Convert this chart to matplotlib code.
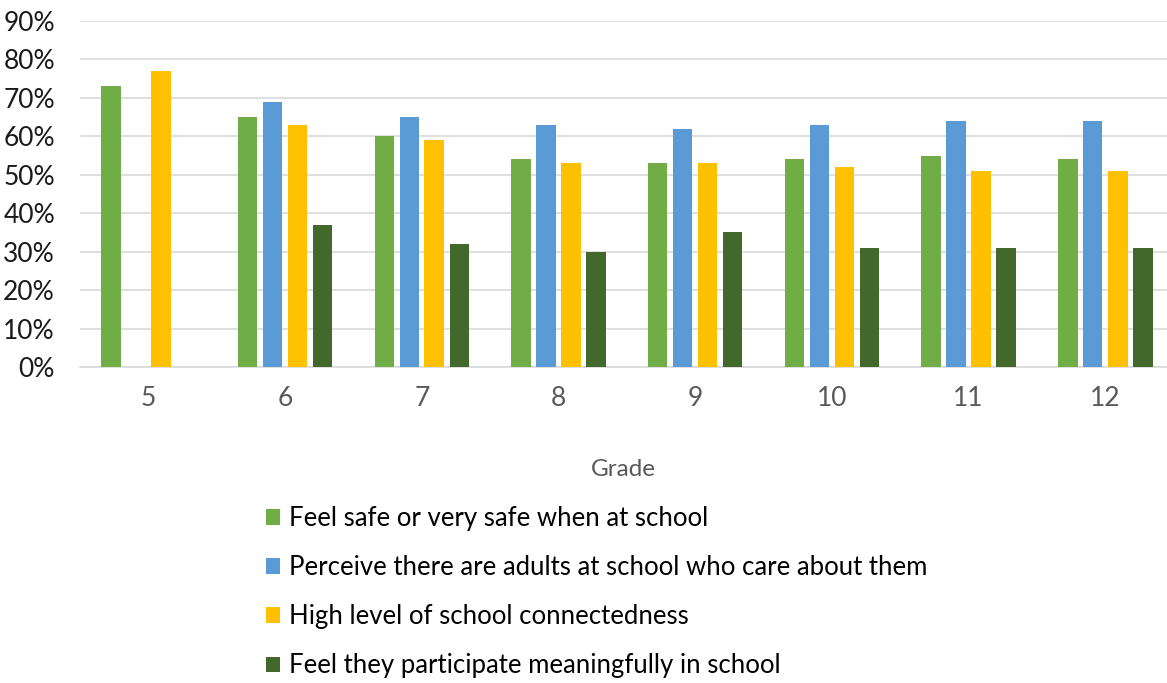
import matplotlib.pyplot as plt
import numpy as np

plt.rcParams['font.family'] = ['Lato', 'DejaVu Sans']

grades = ['5', '6', '7', '8', '9', '10', '11', '12']
safe = [73, 65, 60, 54, 53, 54, 55, 54]
adults = [np.nan, 69, 65, 63, 62, 63, 64, 64]
connected = [77, 63, 59, 53, 53, 52, 51, 51]
participate = [np.nan, 37, 32, 30, 35, 31, 31, 31]

labels = ['Feel safe or very safe when at school',
          'Perceive there are adults at school who care about them',
          'High level of school connectedness',
          'Feel they participate meaningfully in school']
colors = ['#70AD47', '#5B9BD5', '#FFC000', '#43682B']

W, H = 1167, 683
fig = plt.figure(figsize=(W / 100, H / 100), dpi=100)
ax = fig.add_axes([80 / W, 316 / H, (W - 80) / W, 346 / H])

x = np.arange(len(grades))
pitch = 25 / 136.7
width = 19.5 / 136.7
series = [safe, adults, connected, participate]
for i, (vals, c, lab) in enumerate(zip(series, colors, labels)):
    ax.bar(x + (i - 1.5) * pitch, vals, width, color=c, label=lab, zorder=3)

ax.set_xlim(-0.5, -0.5 + (W - 80) / 136.7)
ax.set_ylim(0, 90)
ax.set_yticks(range(0, 91, 10))
ax.set_yticklabels([f'{v}%' for v in range(0, 91, 10)], fontsize=19, color='#1a1a1a')
ax.set_xticks(x)
ax.set_xticklabels(grades, fontsize=19, color='#595959')
ax.tick_params(axis='both', length=0)
ax.tick_params(axis='x', pad=14)
ax.tick_params(axis='y', pad=18)
ax.grid(axis='y', color='#d9d9d9', lw=1.2, zorder=0)
for s in ['top', 'right', 'left']:
    ax.spines[s].set_visible(False)
ax.spines['bottom'].set_color('#d9d9d9')
ax.spines['bottom'].set_linewidth(1.2)

fig.text(623 / W, 1 - 470 / H, 'Grade', fontsize=17.5, color='#595959', ha='center', va='center')

fig.legend(loc='upper left', bbox_to_anchor=(266 / W, 1 - 506 / H), frameon=False,
           fontsize=18.5, borderpad=0, borderaxespad=0, labelspacing=0.94,
           handlelength=0.55, handleheight=0.55, handletextpad=0.35)

fig.savefig('out.png', dpi=100)
